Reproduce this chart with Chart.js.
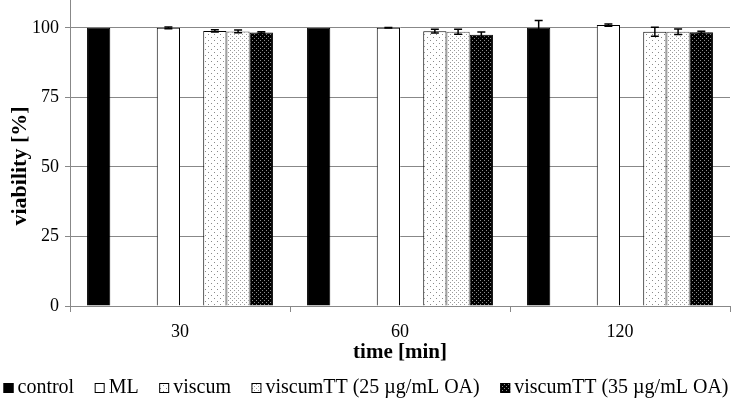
<!DOCTYPE html>
<html>
<head>
<meta charset="utf-8">
<script src="https://cdn.jsdelivr.net/npm/chart.js@4/dist/chart.umd.min.js"></script>
<style>
html,body{margin:0;padding:0;background:#fff;}
#wrap{width:733px;height:407px;position:relative;}
</style>
</head>
<body>
<div id="wrap"><canvas id="c" width="733" height="407"></canvas></div>
<script>
// ---- data ----
const categories = ['30', '60', '120'];
const control = [100, 100, 100];
const controlErr = [0, 0, 2.6];
const ml = [100, 100, 101];
const mlErr = [0.3, 0.1, 0.4];
const viscum = [98.9, 98.8, 98.6];
const viscumErr = [0.4, 0.7, 1.6];
const viscumTT25 = [98.7, 98.6, 98.6];
const viscumTT25Err = [0.5, 0.9, 1.0];
const viscumTT35 = [98.3, 97.5, 98.4];
const viscumTT35Err = [0.3, 1.0, 0.4];
const blank = [null, null, null];
const yTicks = [0, 25, 50, 75, 100];
const yTitle = 'viability [%]';
const xTitle = 'time [min]';

function pattern(bg, dot, tile, dots) {
  const c = document.createElement('canvas');
  c.width = tile; c.height = tile;
  const g = c.getContext('2d');
  g.fillStyle = bg; g.fillRect(0, 0, tile, tile);
  g.fillStyle = dot;
  dots.forEach(d => g.fillRect(d[0], d[1], 1, 1));
  return g.createPattern(c, 'repeat');
}
const patViscum = pattern('#ffffff', '#8a8a8a', 6, [[1, 1], [4, 4]]);
const patTT25 = pattern('#ffffff', '#9a9a9a', 4, [[0, 0], [2, 2]]);
const patTT35 = pattern('#000000', '#8c8c8c', 4, [[0, 0], [2, 2]]);

const serif = "'Liberation Serif', 'Times New Roman', serif";
Chart.defaults.font.family = serif;
Chart.defaults.color = '#000';

function ds(label, data, err, bg, border) {
  return { label, data, err, backgroundColor: bg, borderColor: border, borderWidth: 1,
           borderSkipped: 'bottom', barPercentage: 1.0, categoryPercentage: 0.845 };
}

const datasets = [
  ds('control', control, controlErr, '#000000', '#000000'),
  ds('', blank, null, 'transparent', 'transparent'),
  ds('', blank, null, 'transparent', 'transparent'),
  ds('ML', ml, mlErr, '#ffffff', '#000000'),
  ds('', blank, null, 'transparent', 'transparent'),
  ds('viscum', viscum, viscumErr, patViscum, '#000000'),
  ds('viscumTT (25 µg/mL OA)', viscumTT25, viscumTT25Err, patTT25, '#555555'),
  ds('viscumTT (35 µg/mL OA)', viscumTT35, viscumTT35Err, patTT35, '#000000')
];

const errorBars = {
  id: 'errorBars',
  afterDatasetsDraw(chart) {
    const ctx = chart.ctx;
    const y = chart.scales.y;
    ctx.save();
    ctx.strokeStyle = '#000';
    ctx.lineWidth = 1.5;
    chart.data.datasets.forEach((d, i) => {
      if (!d.err) return;
      const meta = chart.getDatasetMeta(i);
      meta.data.forEach((bar, j) => {
        const v = d.data[j], e = d.err[j];
        if (v == null || !e) return;
        const x = bar.x;
        const top = y.getPixelForValue(v + e);
        const bot = y.getPixelForValue(v - e);
        ctx.beginPath();
        ctx.moveTo(x, top); ctx.lineTo(x, bot);
        ctx.moveTo(x - 4, top); ctx.lineTo(x + 4, top);
        ctx.moveTo(x - 4, bot); ctx.lineTo(x + 4, bot);
        ctx.stroke();
      });
    });
    ctx.restore();
  }
};

// y axis title (placed like the original, a bit below the plot centre)
const yAxisTitle = {
  id: 'yAxisTitle',
  afterDraw(chart) {
    const ctx = chart.ctx;
    ctx.save();
    ctx.translate(20, 166);
    ctx.rotate(-Math.PI / 2);
    ctx.font = "bold 22px " + serif;
    ctx.fillStyle = '#000';
    ctx.textAlign = 'center';
    ctx.textBaseline = 'middle';
    ctx.fillText(yTitle, 0, 0);
    ctx.restore();
  }
};

// compact legend (box close to text, as in the original)
const compactLegend = {
  id: 'compactLegend',
  afterDraw(chart) {
    const ctx = chart.ctx;
    const items = chart.data.datasets.filter(d => d.label !== '');
    const font = "20px " + serif;
    const box = 10, boxGap = 4, itemGap = 20.5, cy = 388, center = 366;
    ctx.save();
    ctx.font = font;
    const widths = items.map(d => ctx.measureText(d.label).width);
    const total = widths.reduce((a, w) => a + box + boxGap + w, 0) + itemGap * (items.length - 1);
    let x = center - total / 2;
    items.forEach((d, i) => {
      ctx.fillStyle = d.backgroundColor;
      ctx.fillRect(x, cy - box / 2, box, box);
      ctx.strokeStyle = '#000';
      ctx.lineWidth = 1;
      ctx.strokeRect(x + 0.5, cy - box / 2 + 0.5, box - 1, box - 1);
      ctx.fillStyle = '#000';
      ctx.textBaseline = 'middle';
      ctx.textAlign = 'left';
      ctx.fillText(d.label, x + box + boxGap, cy);
      x += box + boxGap + widths[i] + itemGap;
    });
    ctx.restore();
  }
};

new Chart(document.getElementById('c'), {
  type: 'bar',
  data: { labels: categories, datasets },
  plugins: [errorBars, yAxisTitle, compactLegend],
  options: {
    responsive: false,
    animation: false,
    layout: { padding: { left: 0, right: 3, top: 0, bottom: 37 } },
    plugins: {
      tooltip: { enabled: false },
      legend: { display: false }
    },
    scales: {
      x: {
        grid: { display: true, drawOnChartArea: false, color: '#888', tickLength: 6, offset: true },
        border: { color: '#888', width: 1 },
        ticks: { color: '#000', font: { family: serif, size: 18 }, padding: 9 },
        title: { display: true, text: xTitle, color: '#000', font: { family: serif, size: 21, weight: 'bold' }, padding: { top: 0, bottom: 5 } },
        afterFit: (s) => { s.height = 64; }
      },
      y: {
        min: 0, max: 110,
        afterBuildTicks: (s) => { s.ticks = yTicks.concat([110]).map(v => ({ value: v })); },
        grid: { color: (c) => c.tick && c.tick.value === 110 ? 'transparent' : '#888', tickLength: 5 },
        border: { color: '#888', width: 1 },
        ticks: {
          color: '#000', font: { family: serif, size: 18 }, padding: 6,
          callback: (v) => (v === 110 ? null : v)
        },
        title: { display: false },
        afterFit: (s) => { s.width = 70; s.paddingTop = 0; s.paddingBottom = 0; }
      }
    }
  }
});
</script>
</body>
</html>
